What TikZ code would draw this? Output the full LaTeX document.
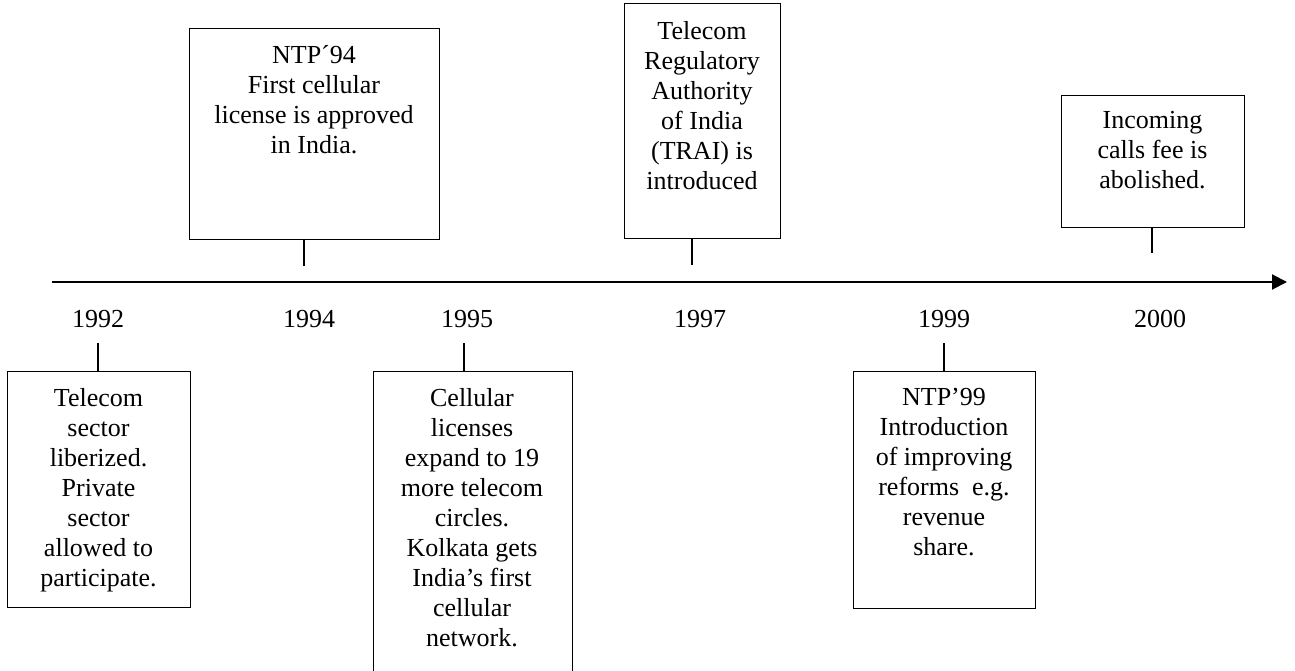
\documentclass[tikz,border=0pt]{standalone}
\usepackage{fontspec}
\setmainfont{Liberation Serif}
\usetikzlibrary{arrows.meta,calc}
\begin{document}
\begin{tikzpicture}[x=1pt,y=-1pt,
  evbox/.style={draw, line width=1.3pt, inner sep=0pt, anchor=north west},
  evtext/.style={inner sep=0pt, align=center, anchor=north,
                 font=\fontsize{26}{30}\selectfont},
  yeartext/.style={inner sep=0pt, anchor=base, font=\fontsize{26}{30}\selectfont},
  tickline/.style={line width=1.5pt},
  axisline/.style={line width=2pt, -{Triangle[length=15pt,width=15pt]}}]
\useasboundingbox (0,0) rectangle (1295,671);

% time axis
\coordinate (axstart) at (52,282);
\coordinate (axend) at (1287,282);
\draw[axisline] (axstart) -- (axend);

% year labels
\node[yeartext] (y92) at (98,327) {1992};
\node[yeartext] (y94) at (309,327) {1994};
\node[yeartext] (y95) at (467,327) {1995};
\node[yeartext] (y97) at (700,327) {1997};
\node[yeartext] (y99) at (944,327) {1999};
\node[yeartext] (y00) at (1160,327) {2000};

% events above the axis
\node[evbox, minimum width=250pt, minimum height=211pt] (b94) at (189,28) {};
\node[evtext] (t94) at (314,45) {NTP´94\\First cellular\\license is approved\\in India.};
\node[evbox, minimum width=156pt, minimum height=235pt] (b97) at (624,3) {};
\node[evtext] (t97) at (702,21) {Telecom\\Regulatory\\Authority\\of India\\(TRAI) is\\introduced};
\node[evbox, minimum width=183pt, minimum height=132pt] (b00) at (1061,95) {};
\node[evtext] (t00) at (1152.5,111) {Incoming\\calls fee is\\abolished.};

\coordinate (k94) at (304,266);
\coordinate (k97) at (692,265);
\coordinate (k00) at (1152,253);
\draw[tickline] (k94) -- (k94 |- b94.south);
\draw[tickline] (k97) -- (k97 |- b97.south);
\draw[tickline] (k00) -- (k00 |- b00.south);

% events below the axis
\node[evbox, minimum width=183pt, minimum height=236pt] (b92) at (7,371) {};
\node[evtext] (t92) at (98.5,388) {Telecom\\sector\\liberized.\\Private\\sector\\allowed to\\participate.};
\node[evbox, minimum width=199pt, minimum height=320pt] (b95) at (373,371) {};
\node[evtext] (t95) at (472,388)
  {Cellular\\licenses\\expand to 19\\more telecom\\circles.\\Kolkata gets\\India’s first\\cellular\\network.};
\node[evbox, minimum width=182pt, minimum height=237pt] (b99) at (853,371) {};
\node[evtext] (t99) at (944,388) {NTP’99\\Introduction\\of improving\\reforms\ \ e.g.\\revenue\\share.};

\coordinate (k92) at (98,343);
\coordinate (k95) at (464,343);
\coordinate (k99) at (944,343);
\draw[tickline] (k92) -- (k92 |- b92.north);
\draw[tickline] (k95) -- (k95 |- b95.north);
\draw[tickline] (k99) -- (k99 |- b99.north);
\end{tikzpicture}
\end{document}
